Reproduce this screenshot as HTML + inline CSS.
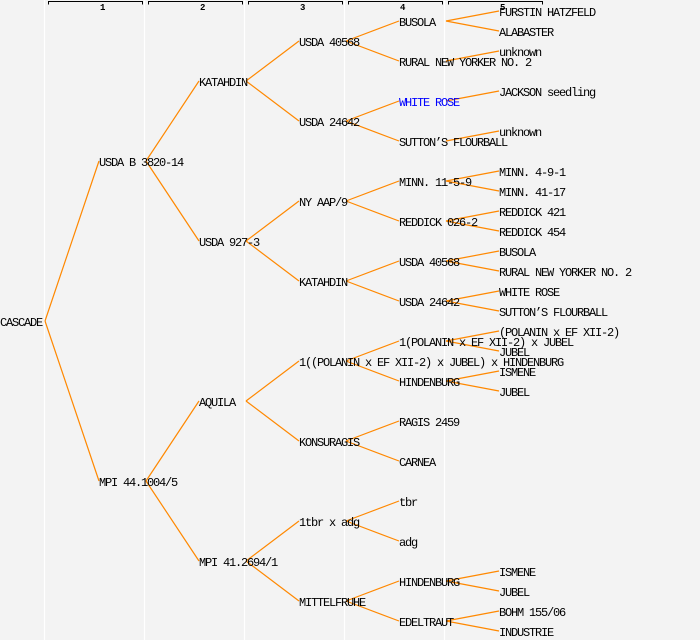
<!DOCTYPE html>
<html><head><meta charset="utf-8"><style>
html,body{margin:0;padding:0;background:#f3f3f3;}
svg{display:block;}
text{font-family:"Liberation Mono","DejaVu Sans Mono",monospace;font-size:12px;letter-spacing:-1.2px;fill:#000;}
.h{font-size:9px;letter-spacing:0;font-weight:bold;}
</style></head><body>
<svg width="700" height="640" xmlns="http://www.w3.org/2000/svg">
<rect width="700" height="640" fill="#f3f3f3"/>
<g stroke="#ffffff" stroke-width="1.2">
<line x1="44.5" y1="0" x2="44.5" y2="640"/><line x1="144.5" y1="0" x2="144.5" y2="640"/><line x1="244.5" y1="0" x2="244.5" y2="640"/><line x1="344.5" y1="0" x2="344.5" y2="640"/><line x1="444.5" y1="0" x2="444.5" y2="640"/>
</g>
<g stroke="#000" stroke-width="1" fill="none">
<path d="M48.5 4.5V1.5H142.5V4.5"/><path d="M148.5 4.5V1.5H242.5V4.5"/><path d="M248.5 4.5V1.5H342.5V4.5"/><path d="M348.5 4.5V1.5H442.5V4.5"/><path d="M448.5 4.5V1.5H542.5V4.5"/>
</g>
<g><text class="h" x="100" y="10">1</text><text class="h" x="200" y="10">2</text><text class="h" x="300" y="10">3</text><text class="h" x="400" y="10">4</text><text class="h" x="500" y="10">5</text></g>
<g stroke="#ff8800" stroke-width="1.2" fill="none">
<line x1="45" y1="321" x2="99" y2="161"/><line x1="45" y1="321" x2="99" y2="481"/>
<line x1="146" y1="161" x2="199" y2="81"/><line x1="146" y1="161" x2="199" y2="241"/>
<line x1="146" y1="481" x2="199" y2="401"/><line x1="146" y1="481" x2="199" y2="561"/>
<line x1="246" y1="81" x2="299" y2="41"/><line x1="246" y1="81" x2="299" y2="121"/>
<line x1="246" y1="241" x2="299" y2="201"/><line x1="246" y1="241" x2="299" y2="281"/>
<line x1="246" y1="401" x2="299" y2="361"/><line x1="246" y1="401" x2="299" y2="441"/>
<line x1="246" y1="561" x2="299" y2="521"/><line x1="246" y1="561" x2="299" y2="601"/>
<line x1="346" y1="41" x2="399" y2="21"/><line x1="346" y1="41" x2="399" y2="61"/>
<line x1="346" y1="121" x2="399" y2="101"/><line x1="346" y1="121" x2="399" y2="141"/>
<line x1="346" y1="201" x2="399" y2="181"/><line x1="346" y1="201" x2="399" y2="221"/>
<line x1="346" y1="281" x2="399" y2="261"/><line x1="346" y1="281" x2="399" y2="301"/>
<line x1="346" y1="361" x2="399" y2="341"/><line x1="346" y1="361" x2="399" y2="381"/>
<line x1="346" y1="441" x2="399" y2="421"/><line x1="346" y1="441" x2="399" y2="461"/>
<line x1="346" y1="521" x2="399" y2="501"/><line x1="346" y1="521" x2="399" y2="541"/>
<line x1="346" y1="601" x2="399" y2="581"/><line x1="346" y1="601" x2="399" y2="621"/>
<line x1="446" y1="21" x2="499" y2="11"/><line x1="446" y1="21" x2="499" y2="31"/>
<line x1="446" y1="61" x2="499" y2="51"/>
<line x1="446" y1="101" x2="499" y2="91"/>
<line x1="446" y1="141" x2="499" y2="131"/>
<line x1="446" y1="181" x2="499" y2="171"/><line x1="446" y1="181" x2="499" y2="191"/>
<line x1="446" y1="221" x2="499" y2="211"/><line x1="446" y1="221" x2="499" y2="231"/>
<line x1="446" y1="261" x2="499" y2="251"/><line x1="446" y1="261" x2="499" y2="271"/>
<line x1="446" y1="301" x2="499" y2="291"/><line x1="446" y1="301" x2="499" y2="311"/>
<line x1="446" y1="341" x2="499" y2="331"/><line x1="446" y1="341" x2="499" y2="351"/>
<line x1="446" y1="381" x2="499" y2="371"/><line x1="446" y1="381" x2="499" y2="391"/>
<line x1="446" y1="581" x2="499" y2="571"/><line x1="446" y1="581" x2="499" y2="591"/>
<line x1="446" y1="621" x2="499" y2="611"/><line x1="446" y1="621" x2="499" y2="631"/>
</g>
<g>
<text x="0" y="326">CASCADE</text>
<text x="99" y="166">USDA B 3820-14</text>
<text x="99" y="486">MPI 44.1004/5</text>
<text x="199" y="86">KATAHDIN</text>
<text x="199" y="246">USDA 927-3</text>
<text x="199" y="406">AQUILA</text>
<text x="199" y="566">MPI 41.2694/1</text>
<text x="299" y="46">USDA 40568</text>
<text x="299" y="126">USDA 24642</text>
<text x="299" y="206">NY AAP/9</text>
<text x="299" y="286">KATAHDIN</text>
<text x="299" y="366">1((POLANIN x EF XII-2) x JUBEL) x HINDENBURG</text>
<text x="299" y="446">KONSURAGIS</text>
<text x="299" y="526">1tbr x adg</text>
<text x="299" y="606">MITTELFRUHE</text>
<text x="399" y="26">BUSOLA</text>
<text x="399" y="66">RURAL NEW YORKER NO. 2</text>
<text x="399" y="106" style="fill:#0000ff">WHITE ROSE</text>
<text x="399" y="146">SUTTON’S FLOURBALL</text>
<text x="399" y="186">MINN. 11-5-9</text>
<text x="399" y="226">REDDICK 026-2</text>
<text x="399" y="266">USDA 40568</text>
<text x="399" y="306">USDA 24642</text>
<text x="399" y="346">1(POLANIN x EF XII-2) x JUBEL</text>
<text x="399" y="386">HINDENBURG</text>
<text x="399" y="426">RAGIS 2459</text>
<text x="399" y="466">CARNEA</text>
<text x="399" y="506">tbr</text>
<text x="399" y="546">adg</text>
<text x="399" y="586">HINDENBURG</text>
<text x="399" y="626">EDELTRAUT</text>
<text x="499" y="16">FURSTIN HATZFELD</text>
<text x="499" y="36">ALABASTER</text>
<text x="499" y="56">unknown</text>
<text x="499" y="96">JACKSON seedling</text>
<text x="499" y="136">unknown</text>
<text x="499" y="176">MINN. 4-9-1</text>
<text x="499" y="196">MINN. 41-17</text>
<text x="499" y="216">REDDICK 421</text>
<text x="499" y="236">REDDICK 454</text>
<text x="499" y="256">BUSOLA</text>
<text x="499" y="276">RURAL NEW YORKER NO. 2</text>
<text x="499" y="296">WHITE ROSE</text>
<text x="499" y="316">SUTTON’S FLOURBALL</text>
<text x="499" y="336">(POLANIN x EF XII-2)</text>
<text x="499" y="356">JUBEL</text>
<text x="499" y="376">ISMENE</text>
<text x="499" y="396">JUBEL</text>
<text x="499" y="576">ISMENE</text>
<text x="499" y="596">JUBEL</text>
<text x="499" y="616">BOHM 155/06</text>
<text x="499" y="636">INDUSTRIE</text>
</g>
</svg>
</body></html>
